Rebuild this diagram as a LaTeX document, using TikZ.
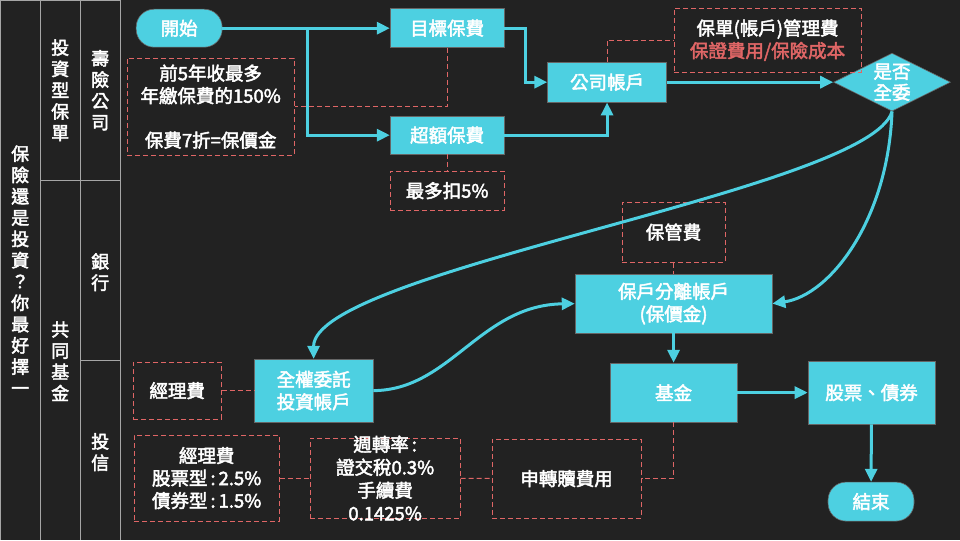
\documentclass[tikz,border=0pt]{standalone}
\usepackage{fontspec}
\setmainfont{Noto Sans CJK TC}[AutoFakeBold=2.5]
\usetikzlibrary{
		positioning,
		shapes.geometric,
		arrows.meta
	}
\definecolor{bg}{HTML}{222222}
\definecolor{flowc}{HTML}{4DD0E1}
\definecolor{feec}{HTML}{E06666}
\definecolor{lanec}{HTML}{A6A6A6}
\newcommand\diafont{\bfseries\fontsize{18.5}{22.5}\selectfont}
\newcommand\lanefont{\bfseries\fontsize{18}{21.3}\selectfont}
\newcommand\col{\hspace{3pt}:\hspace{3pt}}
\tikzset{
		>={Triangle[length=13pt,width=12pt]},
		box/.style={fill=flowc, draw=black!60, line width=.6pt, text=white, align=center, inner sep=0pt, font=\diafont},
		term/.style={box, rounded corners=18pt},
		note/.style={draw=feec, dash pattern=on 5pt off 3pt, line width=1pt, text=white, align=center, inner sep=0pt, font=\diafont},
		flow/.style={draw=flowc, line width=3pt, ->},
		tie/.style={draw=feec, dash pattern=on 5pt off 3pt, line width=1pt},
		lane/.style={text=white, align=center, inner sep=0pt, font=\lanefont},
		inside/.style={text=white, align=center, inner sep=0pt, font=\diafont}
	}

\begin{document}
\begin{tikzpicture}[x=1pt, y=-1pt] % one unit = one pixel of the 960x540 slide, y downwards
		\fill[bg] (0,0) rectangle (960,540);
		% swim lanes
		\foreach \x in {0.5,40,80,120}
		  \draw[lanec] (\x,0) -- (\x,540);
		\draw[lanec] (0,0.5) -- (120,0.5) (40,180) -- (120,180) (80,360) -- (120,360);
		\node[lane] (title) at (20,270) {保\\險\\還\\是\\投\\資\\？\\你\\最\\好\\擇\\一};
		\node[lane] (ilp) at (60,90) {投\\資\\型\\保\\單};
		\node[lane] (mf) at (60,361) {共\\同\\基\\金};
		\node[lane] (life) at (100,90) {壽\\險\\公\\司};
		\node[lane] (bank) at (100,272) {銀\\行};
		\node[lane] (trust) at (100,452) {投\\信};

		% flow nodes
		\node[term, minimum width=86pt, minimum height=38pt] (start) at (179,28) {開始};
		\node[box, minimum width=114pt, minimum height=39pt] (target) at (447,28) {目標保費};
		\node[box, minimum width=114pt, minimum height=38pt] (excess) at (447,135) {超額保費};
		\node[box, minimum width=119pt, minimum height=40pt] (company) at (607,82) {公司帳戶};
		\node[diamond, fill=flowc, draw=black!60, line width=.6pt, inner sep=0pt,
		  minimum width=117pt, minimum height=58pt,
		  label={[inside, font=\bfseries\fontsize{18.5}{21}\selectfont]center:是否\\全委}] (decide) at (892,82) {};
		\node[box, minimum width=197pt, minimum height=59pt] (sep) at (673.5,303.5) {保戶分離帳戶\\(保價金)};
		\node[box, minimum width=127pt, minimum height=59pt] (fund) at (673.5,392.5) {基金};
		\node[box, minimum width=127pt, minimum height=63pt] (stock) at (871.5,392.5) {股票、債券};
		\node[term, minimum width=86pt, minimum height=39pt] (finish) at (871,501.5) {結束};
		\node[box, minimum width=119pt, minimum height=63pt] (discr) at (313.5,390.5) {全權委託\\投資帳戶};

		% fee notes
		\node[note, minimum width=187pt, minimum height=64pt] (mgmt) at (767.5,40) {保單(帳戶)管理費\\\textcolor{feec}{保證費用/保險成本}};
		\node[note, minimum width=167pt, minimum height=97pt] (first) at (210.5,106.5) {前5年收最多\\年繳保費的150\%\\[22pt]保費7折=保價金};
		\node[note, minimum width=114pt, minimum height=39pt] (cap) at (447,190.5) {最多扣5\%};
		\node[note, minimum width=103pt, minimum height=60pt] (custody) at (673.5,232) {保管費};
		\node[note, minimum width=88pt, minimum height=57pt] (mgrfee) at (177,390.5) {經理費};
		\node[note, minimum width=145pt, minimum height=86pt] (mgrrate) at (206.5,478) {經理費\\股票型\col2.5\%\\債券型\col1.5\%};
		\node[note, minimum width=150pt, minimum height=80pt,
		  label={[inside, font=\bfseries\fontsize{18.5}{23}\selectfont]center:週轉率\col\\證交稅0.3\%\\手續費\\0.1425\%}] (turnover) at (385,478) {};
		\node[note, minimum width=149pt, minimum height=79pt] (trade) at (566.5,478.5) {申轉贖費用};

		% connectors
		\coordinate (split) at (307,28);
		\coordinate (bend) at (525,28);
		\draw[flow] (start) -- (target);
		\draw[flow] (split) |- (excess.west);
		\draw[flow] (target.east) -- (bend) |- (company.west);
		\draw[flow] (excess.east) -| (company.south);
		\draw[flow] (company) -- (decide);
		\draw[flow] (decide.south) .. controls (870,190) and (313,270) .. (discr.north);
		\draw[flow] (decide.south) .. controls (888,220) and (830,295) .. (sep.east);
		\draw[flow] (discr.east) .. controls (450,390) and (480,305) .. (sep.west);
		\draw[flow] (sep) -- (fund);
		\draw[flow] (fund) -- (stock);
		\draw[flow] (stock) -- (finish);

		\draw[tie] (target.south) |- (first.east);
		\draw[tie] (excess) -- (cap);
		\draw[tie] (company.north) |- (mgmt.west);
		\draw[tie] (custody) -- (sep);
		\draw[tie] (fund.south) |- (trade.east);
		\draw[tie] (mgrfee) -- (discr);
		\draw[tie] (mgrrate) -- (turnover);
		\draw[tie] (turnover) -- (trade);
	\end{tikzpicture}
\end{document}
